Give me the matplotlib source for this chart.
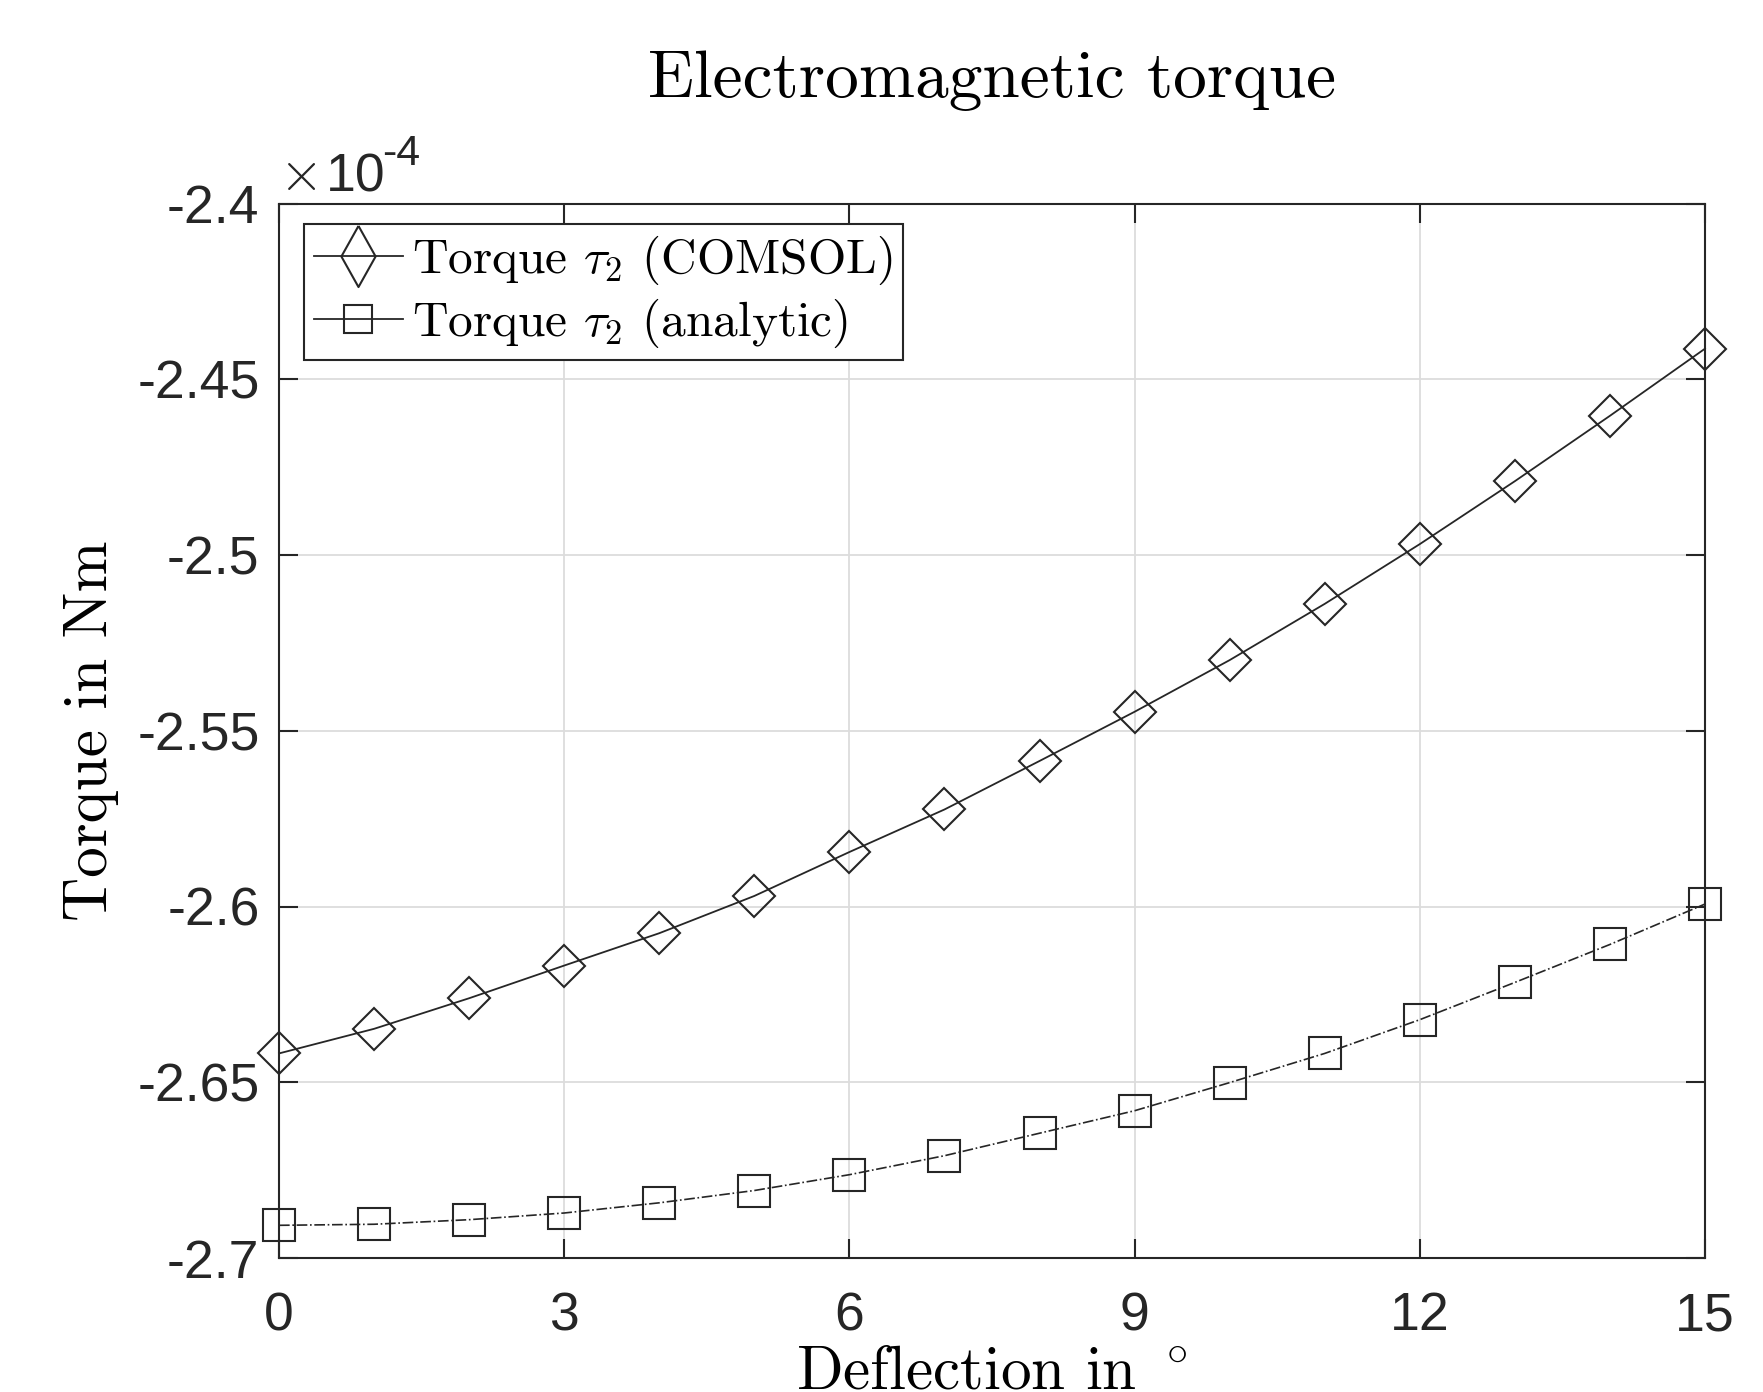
import matplotlib
matplotlib.use("Agg")
import matplotlib.pyplot as plt
from matplotlib.lines import Line2D
from matplotlib.ticker import FuncFormatter, FixedLocator

# Data (torque in units of 1e-4 Nm)
deflection = [0, 1, 2, 3, 4, 5, 6, 7, 8, 9, 10, 11, 12, 13, 14, 15]
torque_comsol = [-2.6418, -2.6348, -2.6261, -2.6168, -2.6076, -2.5970, -2.5845, -2.5724,
                 -2.5586, -2.5446, -2.5299, -2.5139, -2.4969, -2.4790, -2.4604, -2.4413]
torque_analytic = [-2.6907, -2.6904, -2.6891, -2.6872, -2.6843, -2.6808, -2.6763, -2.6709,
                   -2.6645, -2.6581, -2.6501, -2.6418, -2.6322, -2.6216, -2.6108, -2.5993]
xticks = [0, 3, 6, 9, 12, 15]
yticks = [-2.7, -2.65, -2.6, -2.55, -2.5, -2.45, -2.4]

plt.rcParams['mathtext.fontset'] = 'cm'
plt.rcParams['axes.unicode_minus'] = False

dark = '#262626'
fig = plt.figure(figsize=(17.63, 13.92), dpi=100)
ax = fig.add_axes([279/1763, 1 - 1258/1392, (1705-279)/1763, (1258-203.5)/1392])

ax.plot(deflection, torque_comsol, color=dark, lw=1.3, ls='-', marker='D',
        markersize=21.5, markerfacecolor='none', markeredgecolor=dark,
        markeredgewidth=1.5, clip_on=False, zorder=3)
ax.plot(deflection, torque_analytic, color=dark, lw=1.2, ls='-.', marker='s',
        markersize=23.5, markerfacecolor='none', markeredgecolor=dark,
        markeredgewidth=1.5, clip_on=False, zorder=3)

ax.set_xlim(0, 15)
ax.set_ylim(-2.7, -2.4)
ax.xaxis.set_major_locator(FixedLocator(xticks))
ax.yaxis.set_major_locator(FixedLocator(yticks))
ax.yaxis.set_major_formatter(FuncFormatter(lambda v, p: '%g' % v))
ax.xaxis.set_major_formatter(FuncFormatter(lambda v, p: '%g' % v))

ax.grid(True, color='#dcdcdc', lw=1.3)
ax.set_axisbelow(True)
for s in ax.spines.values():
    s.set_color(dark)
    s.set_linewidth(1.5)
ax.tick_params(direction='in', length=14, width=1.5, color=dark, top=True, right=True,
               labelcolor=dark)
ax.tick_params(axis='y', pad=14)
ax.tick_params(axis='x', pad=24)
for lab in ax.get_xticklabels() + ax.get_yticklabels():
    lab.set_fontfamily('Liberation Sans')
    lab.set_fontsize(38.5)

# exponent label (x10^-4)
def axx(px):
    return (px - 279) / 1426

def axy(py):
    return 1 + (203.5 - py) / 1054.5

ax.text(axx(316), axy(190), r'$\times$', transform=ax.transAxes,
        fontsize=40, color=dark, ha='right', va='baseline', clip_on=False)
ax.text(axx(326), axy(192), '10', transform=ax.transAxes,
        fontsize=38.5, color=dark, ha='left', va='baseline',
        fontfamily='Liberation Sans', clip_on=False)
ax.text(axx(382), axy(165), '-4', transform=ax.transAxes,
        fontsize=31, color=dark, ha='left', va='baseline',
        fontfamily='Liberation Sans', clip_on=False)

ax.set_title('Electromagnetic torque', fontfamily='cmr10', fontsize=48.5, pad=77, color='black')
ax.set_xlabel(r'Deflection in $^\circ$', fontfamily='cmr10', fontsize=44, labelpad=3)
ax.set_ylabel('Torque in Nm', fontfamily='cmr10', fontsize=44, labelpad=13)

tall_diamond = [(0, 1), (0.56, 0), (0, -1), (-0.56, 0), (0, 1)]
handles = [Line2D([], [], color=dark, lw=1.3, marker=tall_diamond, markersize=44,
                  markerfacecolor='none', markeredgecolor=dark, markeredgewidth=1.5),
           Line2D([], [], color=dark, lw=1.3, marker='s', markersize=20,
                  markerfacecolor='none', markeredgecolor=dark, markeredgewidth=1.5)]
labels = [r'Torque $\tau_2$ (COMSOL)', r'Torque $\tau_2$ (analytic)']
leg = ax.legend(handles, labels, loc='upper left',
                bbox_to_anchor=(25/1426, 1 - 20.5/1054.5), borderaxespad=0,
                prop={'family': 'cmr10', 'size': 35.5}, fancybox=False, framealpha=1,
                edgecolor=dark, handlelength=1.8, handletextpad=0.2, borderpad=0.2,
                labelspacing=0.2)
leg.get_frame().set_linewidth(1.5)

fig.savefig('out.png', dpi=100)
